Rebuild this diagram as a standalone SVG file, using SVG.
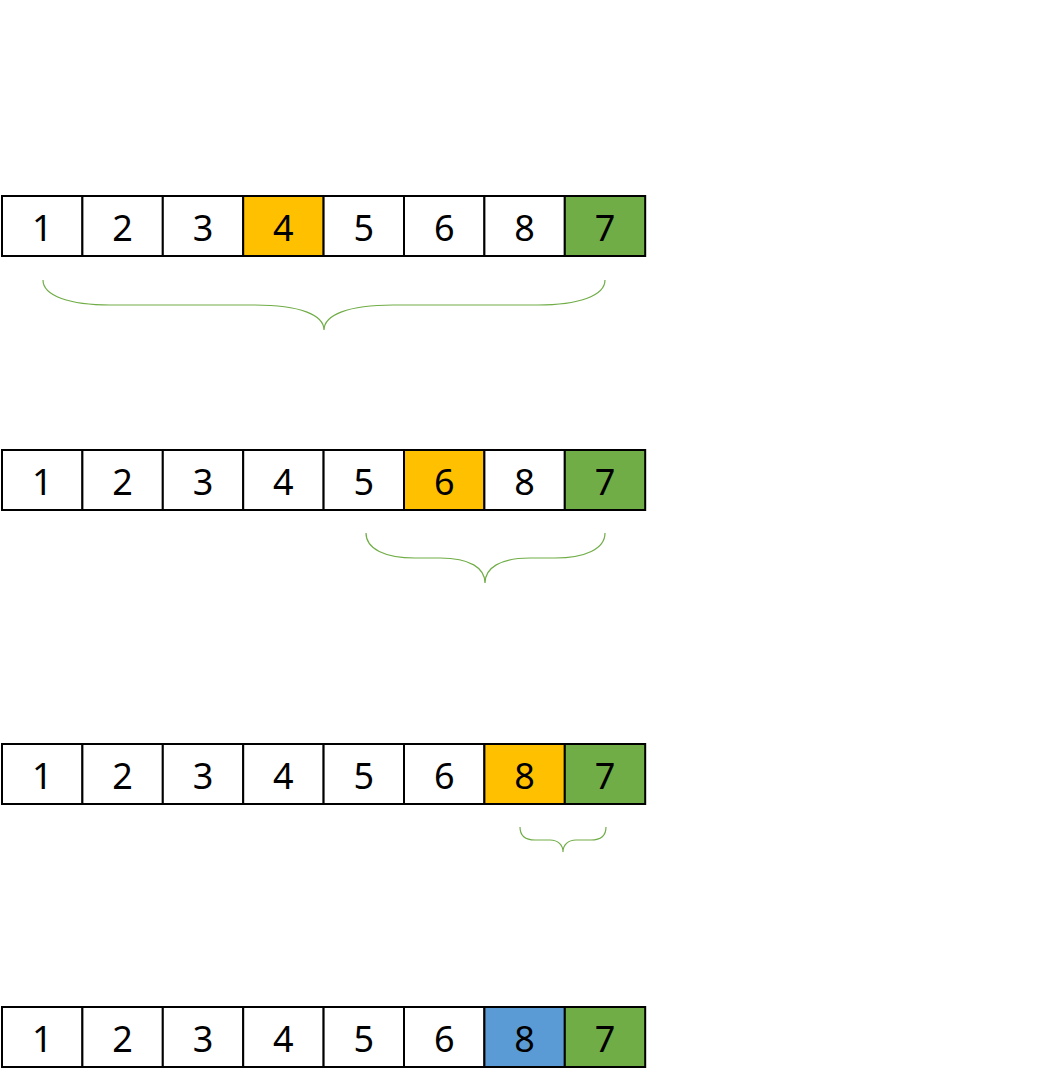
<svg xmlns="http://www.w3.org/2000/svg" width="1061" height="1083" viewBox="0 0 1061 1083">
<style>
.c{stroke:#000;stroke-width:2;fill:#fff}
.o{fill:#FFC000}
.g{fill:#70AD47}
.b{fill:#5B9BD5}
.t{font-family:"Noto Sans","DejaVu Sans",sans-serif;font-size:36px;text-anchor:middle;fill:#000}
.br{fill:none;stroke:#70AD47;stroke-width:1.2}
</style>
<rect width="1061" height="1083" fill="#fff"/>
<g id="row1">
<rect class="c" x="2" y="196" width="80.4" height="60"/><text class="t" x="42.2" y="241">1</text>
<rect class="c" x="82.4" y="196" width="80.4" height="60"/><text class="t" x="122.6" y="241">2</text>
<rect class="c" x="162.8" y="196" width="80.4" height="60"/><text class="t" x="203" y="241">3</text>
<rect class="c o" x="243.2" y="196" width="80.4" height="60"/><text class="t" x="283.4" y="241">4</text>
<rect class="c" x="323.6" y="196" width="80.4" height="60"/><text class="t" x="363.8" y="241">5</text>
<rect class="c" x="404" y="196" width="80.4" height="60"/><text class="t" x="444.2" y="241">6</text>
<rect class="c" x="484.4" y="196" width="80.4" height="60"/><text class="t" x="524.6" y="241">8</text>
<rect class="c g" x="564.8" y="196" width="80.4" height="60"/><text class="t" x="605" y="241">7</text>
</g>
<g id="row2">
<rect class="c" x="2" y="450" width="80.4" height="60"/><text class="t" x="42.2" y="495">1</text>
<rect class="c" x="82.4" y="450" width="80.4" height="60"/><text class="t" x="122.6" y="495">2</text>
<rect class="c" x="162.8" y="450" width="80.4" height="60"/><text class="t" x="203" y="495">3</text>
<rect class="c" x="243.2" y="450" width="80.4" height="60"/><text class="t" x="283.4" y="495">4</text>
<rect class="c" x="323.6" y="450" width="80.4" height="60"/><text class="t" x="363.8" y="495">5</text>
<rect class="c o" x="404" y="450" width="80.4" height="60"/><text class="t" x="444.2" y="495">6</text>
<rect class="c" x="484.4" y="450" width="80.4" height="60"/><text class="t" x="524.6" y="495">8</text>
<rect class="c g" x="564.8" y="450" width="80.4" height="60"/><text class="t" x="605" y="495">7</text>
</g>
<g id="row3">
<rect class="c" x="2" y="744" width="80.4" height="60"/><text class="t" x="42.2" y="789">1</text>
<rect class="c" x="82.4" y="744" width="80.4" height="60"/><text class="t" x="122.6" y="789">2</text>
<rect class="c" x="162.8" y="744" width="80.4" height="60"/><text class="t" x="203" y="789">3</text>
<rect class="c" x="243.2" y="744" width="80.4" height="60"/><text class="t" x="283.4" y="789">4</text>
<rect class="c" x="323.6" y="744" width="80.4" height="60"/><text class="t" x="363.8" y="789">5</text>
<rect class="c" x="404" y="744" width="80.4" height="60"/><text class="t" x="444.2" y="789">6</text>
<rect class="c o" x="484.4" y="744" width="80.4" height="60"/><text class="t" x="524.6" y="789">8</text>
<rect class="c g" x="564.8" y="744" width="80.4" height="60"/><text class="t" x="605" y="789">7</text>
</g>
<g id="row4">
<rect class="c" x="2" y="1007" width="80.4" height="60"/><text class="t" x="42.2" y="1052">1</text>
<rect class="c" x="82.4" y="1007" width="80.4" height="60"/><text class="t" x="122.6" y="1052">2</text>
<rect class="c" x="162.8" y="1007" width="80.4" height="60"/><text class="t" x="203" y="1052">3</text>
<rect class="c" x="243.2" y="1007" width="80.4" height="60"/><text class="t" x="283.4" y="1052">4</text>
<rect class="c" x="323.6" y="1007" width="80.4" height="60"/><text class="t" x="363.8" y="1052">5</text>
<rect class="c" x="404" y="1007" width="80.4" height="60"/><text class="t" x="444.2" y="1052">6</text>
<rect class="c b" x="484.4" y="1007" width="80.4" height="60"/><text class="t" x="524.6" y="1052">8</text>
<rect class="c g" x="564.8" y="1007" width="80.4" height="60"/><text class="t" x="605" y="1052">7</text>
</g>
<g id="braces">
<path class="br" d="M43,280 C43,296 70,305 110,305 L255,305 C300,305 324,315 324,330 C324,315 348,305 393,305 L538,305 C578,305 605,296 605,280"/>
<path class="br" d="M366,533 C366,549 385,558 415,558 L440,558 C470,558 485,568 485,583 C485,568 500,558 530,558 L555,558 C585,558 605,549 605,533"/>
<path class="br" d="M520,827 C520,835 525,840 535,840 L550,840 C558,840 563,845 563,852 C563,845 568,840 576,840 L591,840 C601,840 606,835 606,827"/>
</g>
</svg>
